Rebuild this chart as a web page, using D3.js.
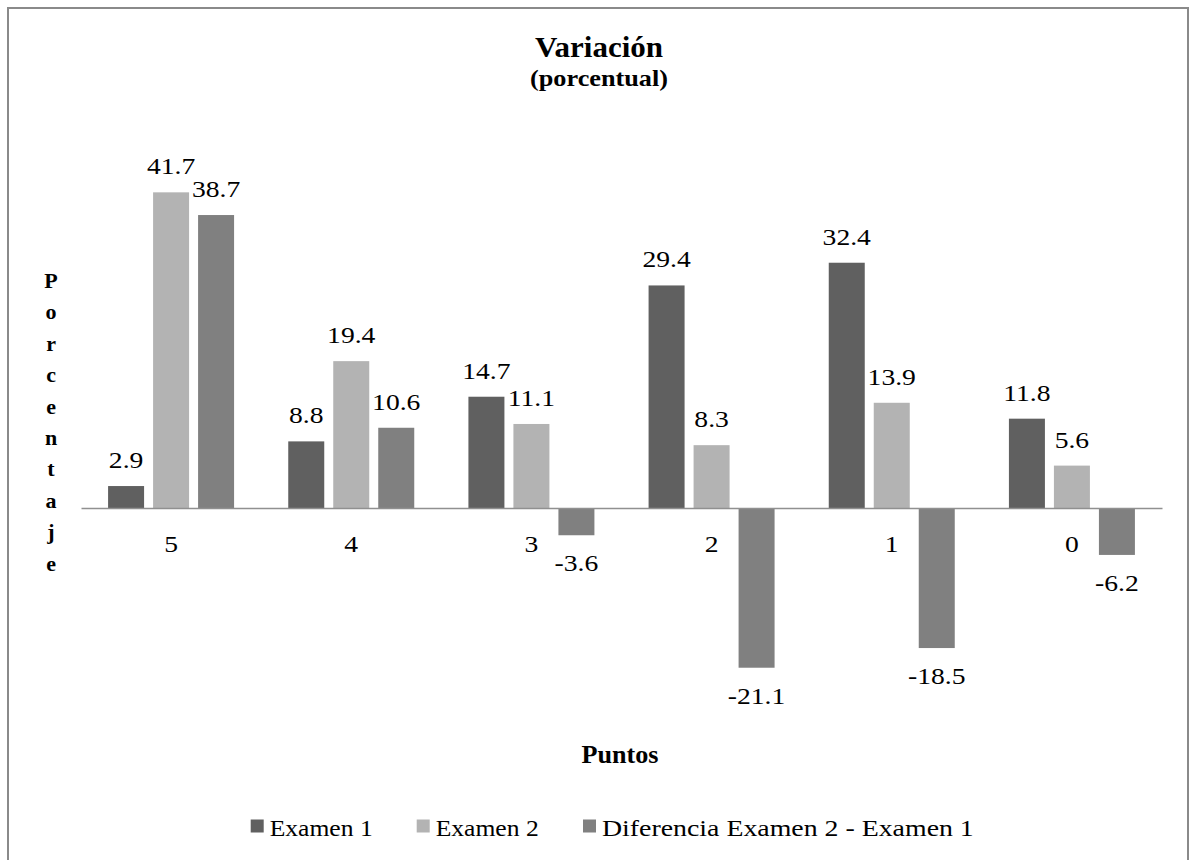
<!DOCTYPE html>
<html><head><meta charset="utf-8">
<script src="https://cdn.jsdelivr.net/npm/d3@7"></script>
<style>
html,body{margin:0;padding:0;background:#fff;}
svg{display:block;}
</style></head>
<body>
<svg id="chart" width="1191" height="860"></svg>
<script>
const categories = ["5","4","3","2","1","0"];
const seriesNames = ["Examen 1","Examen 2","Diferencia Examen 2 - Examen 1"];
const examen1 = [2.9, 8.8, 14.7, 29.4, 32.4, 11.8];
const examen2 = [41.7, 19.4, 11.1, 8.3, 13.9, 5.6];
const diferencia = [38.7, 10.6, -3.6, -21.1, -18.5, -6.2];
const colors = ["#606060","#b3b3b3","#808080"];
const series = [examen1, examen2, diferencia];

const FONT = "Liberation Serif";
const svg = d3.select("#chart");
svg.append("rect").attr("x",8).attr("y",8).attr("width",1180).attr("height",870)
  .attr("fill","none").attr("stroke","#8a8a8a").attr("stroke-width",2);

const plotLeft = 81, plotRight = 1162;
const x0 = d3.scaleBand().domain(categories).range([plotLeft, plotRight]);
const bw = x0.bandwidth();
const barW = 36, gap = 9;
const y = d3.scaleLinear().domain([-25, 45]).range([508 + 25*7.57, 508 - 45*7.57]);

function txt(g, str, x, yy, opts) {
  const t = g.append("text")
    .attr("transform", `translate(${x},${yy})`)
    .attr("text-anchor", opts.anchor || "middle")
    .style("font-family", FONT)
    .style("font-size", opts.size + "px")
    .style("font-weight", opts.bold ? "bold" : "normal")
    .attr("fill", "#000")
    .text(str);
  let sx = opts.sx || 1;
  if (opts.width) sx = opts.width / t.node().getComputedTextLength();
  t.attr("transform", `translate(${x},${yy}) scale(${sx},1)`);
  return t;
}

const g = svg.append("g");
series.forEach((vals, si) => {
  vals.forEach((v, ci) => {
    const cx = x0(categories[ci]) + bw/2;
    const bx = cx - (3*barW + 2*gap)/2 + si*(barW+gap);
    g.append("rect")
      .attr("x", bx).attr("width", barW)
      .attr("y", y(Math.max(0, v))).attr("height", Math.abs(y(v) - y(0)))
      .attr("fill", colors[si]);
    const ly = v >= 0 ? y(v) - 18 : y(v) + 36;
    txt(g, v.toFixed(1), bx + barW/2, ly, {size:24, sx:1.15});
  });
});

const xAxis = d3.axisBottom(x0).tickSize(0).tickFormat("");
const ax = svg.append("g").attr("transform", `translate(0,${y(0)})`).call(xAxis);
ax.select(".domain").attr("stroke","#909090").attr("stroke-width",1.5);
ax.selectAll(".tick text").remove();
categories.forEach(c => {
  txt(svg, c, x0(c) + bw/2, 552, {size:24, sx:1.15});
});

txt(svg, "Variación", 599, 57, {size:30, bold:true, width:128});
txt(svg, "(porcentual)", 599, 86, {size:24, bold:true, width:138});
txt(svg, "Puntos", 620, 763, {size:26, bold:true, width:77});
"Porcentaje".split("").forEach((ch, i) => {
  txt(svg, ch, 51, 288 + i*31.4, {size:22, bold:true});
});

const lg = svg.append("g");
const legX = [250.7, 416.7, 583];
const legW = [103, 103, 372];
seriesNames.forEach((n, i) => {
  lg.append("rect").attr("x", legX[i]).attr("y", 819.5).attr("width", 13).attr("height", 13).attr("fill", colors[i]);
  txt(lg, n, legX[i] + 19, 836, {size:24, anchor:"start", width:legW[i]});
});
</script>
</body></html>
